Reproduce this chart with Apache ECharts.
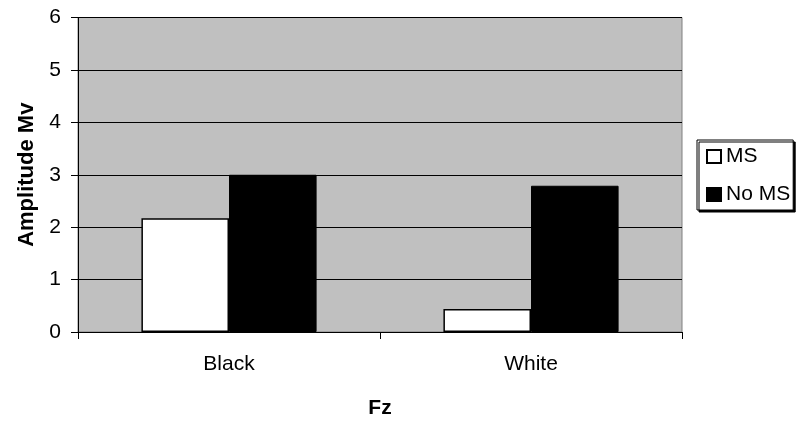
<!DOCTYPE html>
<html>
<head>
<meta charset="utf-8">
<script src="https://cdn.jsdelivr.net/npm/echarts@6/dist/echarts.min.js"></script>
<style>
  html, body { margin: 0; padding: 0; background: #fff; overflow: hidden; }
  #chart { width: 796px; height: 424px; }
</style>
</head>
<body>
<div id="chart"></div>
<script>
// Amplitude at Fz for black and white stimuli
const categories = ['Black', 'White'];
const seriesNames = ['MS', 'No MS'];
const msValues = [2.17, 0.44];
const noMsValues = [3.0, 2.79];

const font = 'Arial, "Liberation Sans", sans-serif';
const fontSize = 21;

const chart = echarts.init(document.getElementById('chart'), null, { renderer: 'canvas' });

chart.setOption({
  animation: false,
  backgroundColor: '#ffffff',
  textStyle: { fontFamily: font, color: '#000' },
  grid: {
    left: 78, right: 114, top: 17.5, bottom: 90,
    show: true, backgroundColor: '#c0c0c0', borderColor: '#808080', borderWidth: 1
  },
  legend: {
    orient: 'vertical',
    left: 697, top: 140,
    padding: [6, 3, 5, 9],
    itemGap: 17,
    itemWidth: 14, itemHeight: 13,
    icon: 'rect',
    borderColor: '#000', borderWidth: 1,
    backgroundColor: '#fff',
    shadowColor: '#000', shadowOffsetX: 2, shadowOffsetY: 2, shadowBlur: 0,
    textStyle: { fontFamily: font, fontSize: fontSize, color: '#000' },
    data: seriesNames
  },
  xAxis: {
    type: 'category',
    data: categories,
    name: 'Fz',
    nameLocation: 'middle',
    nameGap: 66,
    nameTextStyle: { fontFamily: font, fontSize: fontSize, fontWeight: 'bold', color: '#000' },
    axisLine: { show: true, lineStyle: { color: '#000', width: 1 } },
    axisTick: { show: true, alignWithLabel: false, length: 7, lineStyle: { color: '#000' } },
    axisLabel: { fontFamily: font, fontSize: fontSize, color: '#000', margin: 22 },
    splitLine: { show: false }
  },
  yAxis: {
    type: 'value',
    min: 0, max: 6, interval: 1,
    name: 'Amplitude Mv',
    nameLocation: 'middle',
    nameGap: 37,
    nameTextStyle: { fontFamily: font, fontSize: 22, fontWeight: 'bold', color: '#000' },
    axisLine: { show: true, lineStyle: { color: '#000', width: 1 } },
    axisTick: { show: true, length: 7, lineStyle: { color: '#000' } },
    axisLabel: { fontFamily: font, fontSize: fontSize, color: '#000', margin: 17 },
    splitLine: { show: true, lineStyle: { color: '#000', width: 1 } }
  },
  series: [
    {
      name: seriesNames[0],
      type: 'bar',
      data: msValues,
      barGap: '0%',
      barCategoryGap: '42%',
      itemStyle: { color: '#ffffff', borderColor: '#000', borderWidth: 1.5 }
    },
    {
      name: seriesNames[1],
      type: 'bar',
      data: noMsValues,
      barGap: '0%',
      barCategoryGap: '42%',
      itemStyle: { color: '#000000', borderColor: '#000', borderWidth: 1 }
    }
  ]
});
</script>
</body>
</html>
